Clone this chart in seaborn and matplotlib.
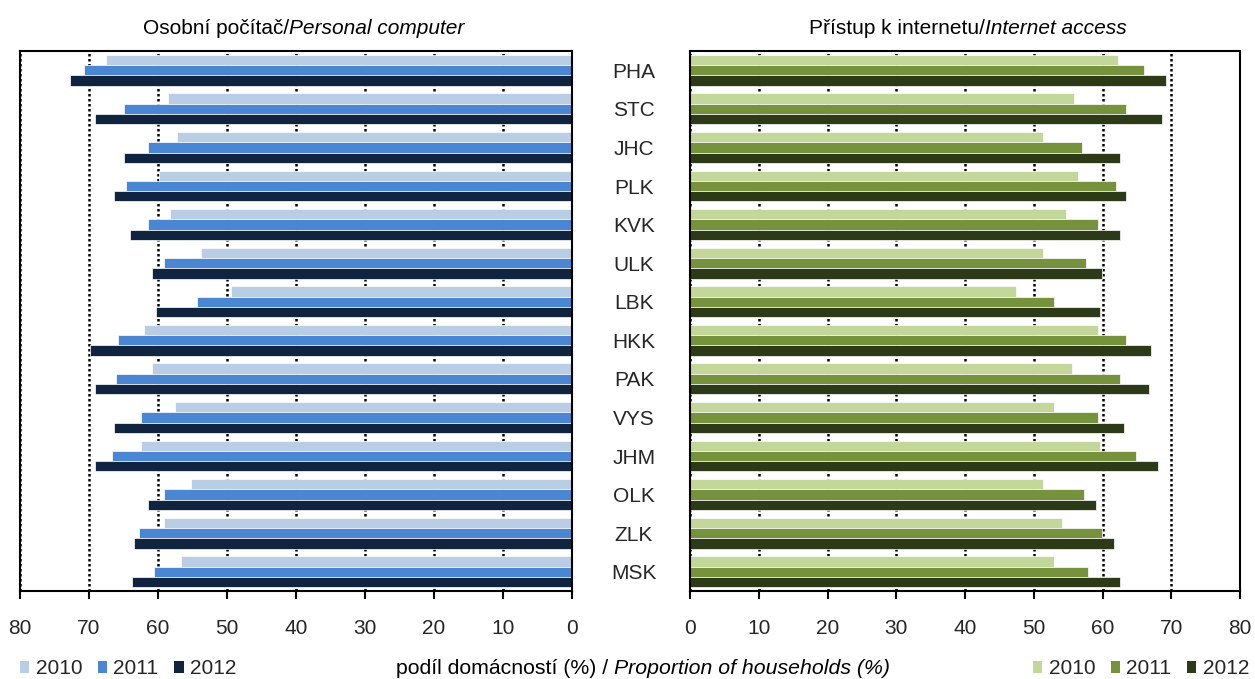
import numpy as np
import pandas as pd
import matplotlib
matplotlib.use("Agg")
import matplotlib.pyplot as plt
import seaborn as sns
from matplotlib.patches import Patch

# ---------------- data ----------------
regions = ["PHA", "STC", "JHC", "PLK", "KVK", "ULK", "LBK",
           "HKK", "PAK", "VYS", "JHM", "OLK", "ZLK", "MSK"]
years = ["2010", "2011", "2012"]

pc_2010 = [67.6, 58.6, 57.2, 59.8, 58.3, 53.7, 49.4, 62.1, 60.9, 57.5, 62.4, 55.2, 59.2, 56.6]
pc_2011 = [70.7, 65.0, 61.5, 64.6, 61.5, 59.2, 54.3, 65.8, 66.1, 62.4, 66.6, 59.2, 62.7, 60.6]
pc_2012 = [72.7, 69.2, 65.0, 66.4, 64.1, 60.9, 60.3, 69.8, 69.2, 66.4, 69.2, 61.5, 63.5, 63.8]

net_2010 = [62.2, 55.8, 51.4, 56.4, 54.7, 51.4, 47.4, 59.3, 55.5, 52.9, 59.6, 51.4, 54.1, 52.9]
net_2011 = [66.0, 63.4, 57.0, 61.9, 59.3, 57.6, 52.9, 63.4, 62.5, 59.3, 64.8, 57.3, 59.9, 57.9]
net_2012 = [69.2, 68.6, 62.5, 63.4, 62.5, 59.9, 59.6, 67.1, 66.8, 63.1, 68.0, 59.0, 61.6, 62.5]

x_ticks = [0, 10, 20, 30, 40, 50, 60, 70, 80]

title_pc = [("Osobní počítač/", "normal"), ("Personal computer", "italic")]
title_net = [("Přístup k internetu/", "normal"), ("Internet access", "italic")]
xlabel_parts = [("podíl domácností (%) /", "normal"), ("Proportion of households (%)", "italic")]

blue_palette = ["#B9CDE5", "#4A86D1", "#10243F"]
green_palette = ["#C4D79B", "#76923C", "#2D3A17"]


def long_df(v10, v11, v12):
    rows = []
    for yr, vals in zip(years, [v10, v11, v12]):
        for r, v in zip(regions, vals):
            rows.append({"region": r, "year": yr, "value": v})
    return pd.DataFrame(rows)


df_pc = long_df(pc_2010, pc_2011, pc_2012)
df_net = long_df(net_2010, net_2011, net_2012)

# ---------------- style ----------------
sns.set_theme(style="white")
plt.rcParams["font.family"] = ["Liberation Sans", "DejaVu Sans"]
FS = 15

W, H = 1255, 679
fig = plt.figure(figsize=(W / 100, H / 100), dpi=100)

ax_top, ax_bot = 51, 591
axL = fig.add_axes([20 / W, 1 - ax_bot / H, (572 - 20) / W, (ax_bot - ax_top) / H])
axR = fig.add_axes([690 / W, 1 - ax_bot / H, (1240 - 690) / W, (ax_bot - ax_top) / H])

for ax, df, pal in [(axL, df_pc, blue_palette), (axR, df_net, green_palette)]:
    sns.barplot(data=df, y="region", x="value", hue="year", hue_order=years,
                order=regions, palette=pal, orient="h", ax=ax, legend=False,
                saturation=1, edgecolor="white", linewidth=0.5, width=0.8)
    ax.set_xlim(0, 80)
    ax.set_xticks(x_ticks)
    ax.set_xticklabels([str(t) for t in x_ticks])
    ax.set_axisbelow(True)
    ax.xaxis.grid(True, color="black", linestyle=(0, (1, 1)), linewidth=1.8)
    ax.yaxis.grid(False)
    for s in ax.spines.values():
        s.set_visible(True)
        s.set_color("black")
        s.set_linewidth(1.5)
    ax.tick_params(axis="x", direction="out", length=6, width=1.5, color="black",
                   labelsize=FS, pad=14, bottom=True)
    ax.tick_params(axis="y", length=0)
    ax.set_xlabel("")
    ax.set_ylabel("")

axL.set_xlim(80, 0)
axL.set_yticklabels([])
axR.tick_params(axis="y", labelsize=FS, pad=40.3)
for lab in axR.get_yticklabels():
    lab.set_horizontalalignment("center")

# ---------------- mixed-style texts ----------------
fig.canvas.draw()
renderer = fig.canvas.get_renderer()


def mixed_text(xc, yc, parts, fontsize, gap=0.0):
    texts = []
    widths = []
    for txt, style in parts:
        t = fig.text(0, 1 - yc / H, txt, fontsize=fontsize, style=style,
                     ha="left", va="center", color="black")
        widths.append(t.get_window_extent(renderer).width)
        texts.append(t)
    total = sum(widths) + gap * (len(parts) - 1)
    x = xc - total / 2
    for t, w in zip(texts, widths):
        t.set_x(x / W)
        x += w + gap


mixed_text(304, 28, title_pc, FS)
mixed_text(968, 28, title_net, FS)
mixed_text(643, 669, xlabel_parts, 15.3, gap=5)

# ---------------- legends ----------------
common = dict(ncol=3, frameon=False, fontsize=FS, handlelength=0.45, handleheight=0.45,
              handletextpad=0.3, columnspacing=0.75, borderpad=0, borderaxespad=0)
hL = [Patch(facecolor=c, edgecolor="none", label=y) for c, y in zip(blue_palette, years)]
hR = [Patch(facecolor=c, edgecolor="none", label=y) for c, y in zip(green_palette, years)]
fig.legend(handles=hL, loc="center left", bbox_to_anchor=(20 / W, 1 - 669 / H), **common)
fig.legend(handles=hR, loc="center right", bbox_to_anchor=(1249 / W, 1 - 669 / H), **common)

fig.savefig("out.png", dpi=100)
